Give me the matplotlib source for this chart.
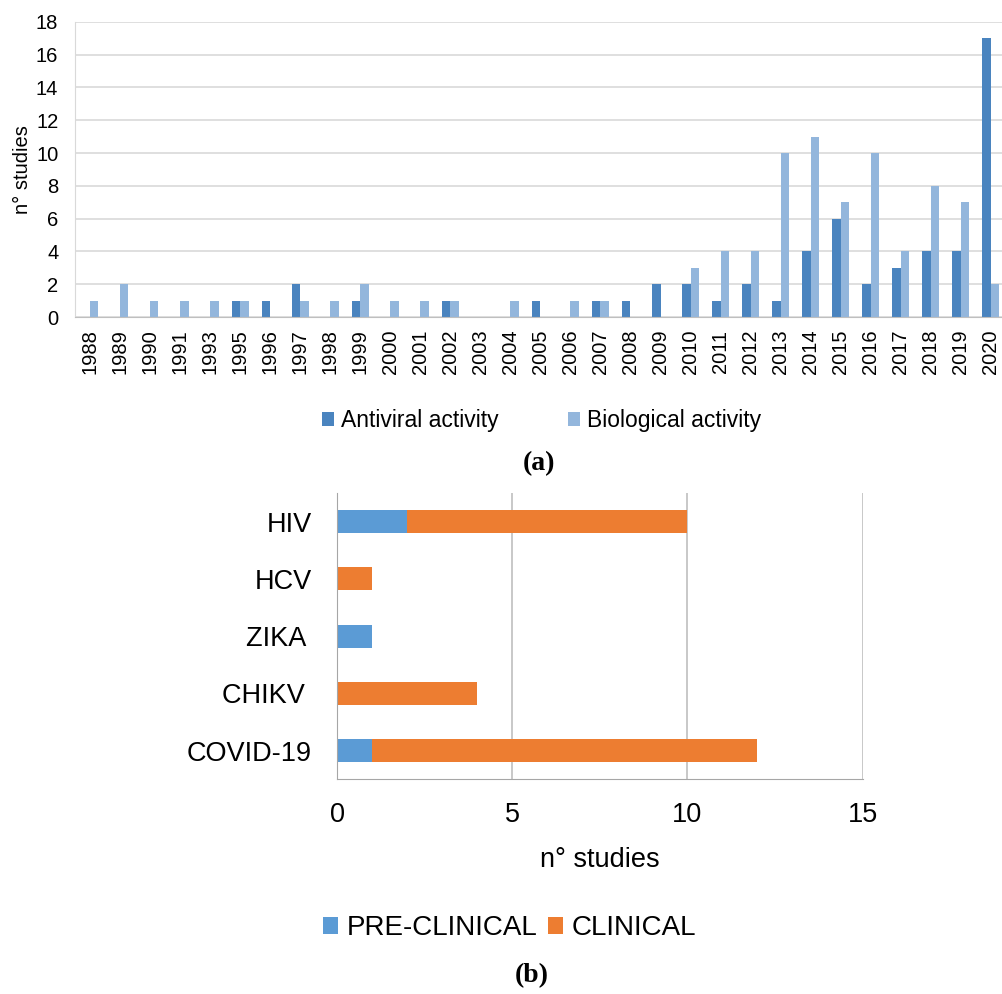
import numpy as np
import matplotlib.pyplot as plt

plt.rcParams['font.family'] = ['Liberation Sans', 'DejaVu Sans']

# panel (a)
years = ['1988', '1989', '1990', '1991', '1993', '1995', '1996', '1997', '1998', '1999',
         '2000', '2001', '2002', '2003', '2004', '2005', '2006', '2007', '2008', '2009',
         '2010', '2011', '2012', '2013', '2014', '2015', '2016', '2017', '2018', '2019', '2020']
antiviral = [0, 0, 0, 0, 0, 1, 1, 2, 0, 1,
             0, 0, 1, 0, 0, 1, 0, 1, 1, 2,
             2, 1, 2, 1, 4, 6, 2, 3, 4, 4, 17]
biological = [1, 2, 1, 1, 1, 1, 0, 1, 1, 2,
              1, 1, 1, 0, 1, 0, 1, 1, 0, 0,
              3, 4, 4, 10, 11, 7, 10, 4, 8, 7, 2]

# panel (b)
viruses = ['HIV', 'HCV', 'ZIKA ', 'CHIKV ', 'COVID-19']
preclinical = [2, 0, 1, 0, 1]
clinical = [8, 1, 0, 4, 11]

fig = plt.figure(figsize=(10.03, 9.94), dpi=100)

# ---- (a) ----
ax1 = fig.add_axes([0.0748, 0.681, 0.928, 0.297])
x = np.arange(len(years))
w = 0.28
ax1.bar(x - w / 2, antiviral, w, color='#4a84bf', label='Antiviral activity')
ax1.bar(x + w / 2, biological, w, color='#93b6dc', label='Biological activity')
ax1.set_xlim(-0.5, len(years) - 0.5)
ax1.set_ylim(0, 18)
ax1.set_yticks(range(0, 19, 2))
ax1.set_xticks(x)
ax1.set_xticklabels(years, rotation=90, fontsize=14.5)
ax1.tick_params(axis='y', labelsize=14.5, length=0, pad=12)
ax1.tick_params(axis='x', length=0, pad=9)
ax1.set_ylabel('n° studies', fontsize=14.5, labelpad=3)
ax1.grid(axis='y', color='#d9d9d9', lw=1.2)
ax1.set_axisbelow(True)
for s in ['top', 'right']:
    ax1.spines[s].set_visible(False)
ax1.spines['left'].set_color('#d9d9d9')
ax1.spines['bottom'].set_color('#bfbfbf')
fig.legend(*ax1.get_legend_handles_labels(), loc='center', bbox_to_anchor=(0.54, 0.577),
           ncol=2, frameon=False, fontsize=16.5, handlelength=0.55, handleheight=0.55,
           handletextpad=0.3, columnspacing=3.0)
fig.text(0.537, 0.534, '(a)', ha='center', va='center', fontsize=20,
         fontweight='bold', family='Liberation Serif')

# ---- (b) ----
ax2 = fig.add_axes([0.336, 0.216, 0.524, 0.288])
y = np.arange(len(viruses))
ax2.barh(y, preclinical, 0.4, color='#5b9bd5', label='PRE-CLINICAL')
ax2.barh(y, clinical, 0.4, left=preclinical, color='#ed7d31', label='CLINICAL')
ax2.set_ylim(len(viruses) - 0.5, -0.5)
ax2.set_xlim(0, 15)
ax2.set_xticks([0, 5, 10, 15])
ax2.set_yticks(y)
ax2.set_yticklabels(viruses)
ax2.tick_params(axis='both', labelsize=19.5, length=0)
ax2.tick_params(axis='y', pad=18)
ax2.tick_params(axis='x', pad=16)
ax2.set_xlabel('n° studies', fontsize=19.5, labelpad=14)
ax2.grid(axis='x', color='#bfbfbf', lw=1.2)
ax2.set_axisbelow(True)
for s in ['top', 'right']:
    ax2.spines[s].set_visible(False)
ax2.spines['left'].set_color('#a6a6a6')
ax2.spines['bottom'].set_color('#a6a6a6')
fig.legend(*ax2.get_legend_handles_labels(), loc='center', bbox_to_anchor=(0.508, 0.066),
           ncol=2, frameon=False, fontsize=20, handlelength=0.55, handleheight=0.55,
           handletextpad=0.3, columnspacing=0.4)
fig.text(0.53, 0.019, '(b)', ha='center', va='center', fontsize=20,
         fontweight='bold', family='Liberation Serif')

fig.savefig('out.png', dpi=100)
